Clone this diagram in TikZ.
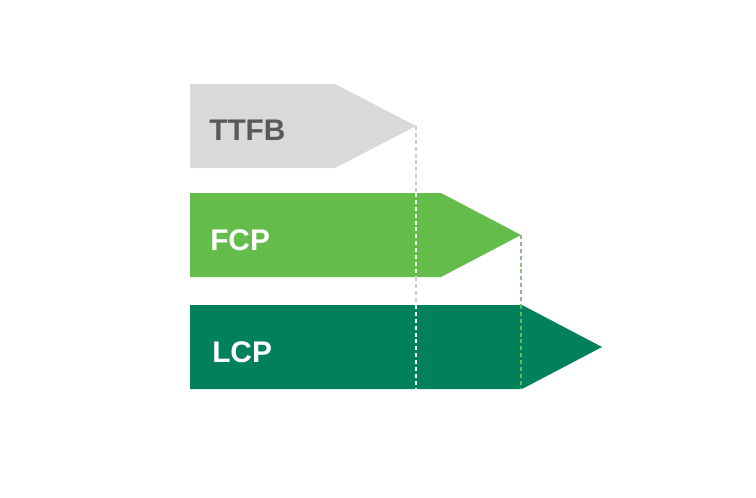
\documentclass[tikz,border=0pt]{standalone}
\usepackage{fontspec}
\setmainfont{Liberation Sans}
\usetikzlibrary{calc}
\definecolor{ttfbgray}{HTML}{D9D9D9}
\definecolor{textgray}{HTML}{58595B}
\definecolor{fcpgreen}{HTML}{64BD4A}
\definecolor{lcpgreen}{HTML}{00805B}
\definecolor{guidegray}{HTML}{CCCCCC}
\definecolor{guidegreen}{HTML}{8DBD8A}
\tikzset{
    barlabel/.style={anchor=base west, inner sep=0pt, font=\fontsize{22.5}{26}\selectfont\bfseries},
    guide/.style={line width=1.1pt, dash pattern=on 3pt off 2.2pt}
}

\begin{document}
\begin{tikzpicture}[x=0.0265cm,y=-0.0265cm]
                \useasboundingbox (0,0) rectangle (756,497);
                % Bars with pointed ends
                \foreach \top/\xend/\xtip/\col/\name in {84/335/416/ttfbgray/ttfb, 193/441/521/fcpgreen/fcp, 305/522/602/lcpgreen/lcp} {
                    \fill[\col] (190,\top) -- (\xend,\top) -- (\xtip,\top+42) -- (\xend,\top+84) -- (190,\top+84) -- cycle;
                    \coordinate (\name tip) at (\xtip,\top+42);
                    \coordinate (\name top) at (190,\top);
                    \coordinate (\name bot) at (190,\top+84);
                }
                % Labels
                \node[barlabel, text=textgray] (ttfblabel) at (209,140) {TTFB};
                \node[barlabel, text=white] (fcplabel) at (210,250) {FCP};
                \node[barlabel, text=white] (lcplabel) at (212,362) {LCP};
                % Guide from TTFB tip
                \draw[guide, guidegray] (ttfbtip) -- (ttfbtip |- fcptop);
                \draw[guide, white!90!fcpgreen] (ttfbtip |- fcptop) -- (ttfbtip |- fcpbot);
                \draw[guide, guidegray] (ttfbtip |- fcpbot) -- (ttfbtip |- lcptop);
                \draw[guide, white] (ttfbtip |- lcptop) -- (ttfbtip |- lcpbot);
                % Guide from FCP tip
                \draw[guide, guidegreen] (fcptip) -- (fcptip |- lcptop);
                \draw[guide, fcpgreen] (fcptip |- lcptop) -- (fcptip |- lcpbot);
\end{tikzpicture}
\end{document}
